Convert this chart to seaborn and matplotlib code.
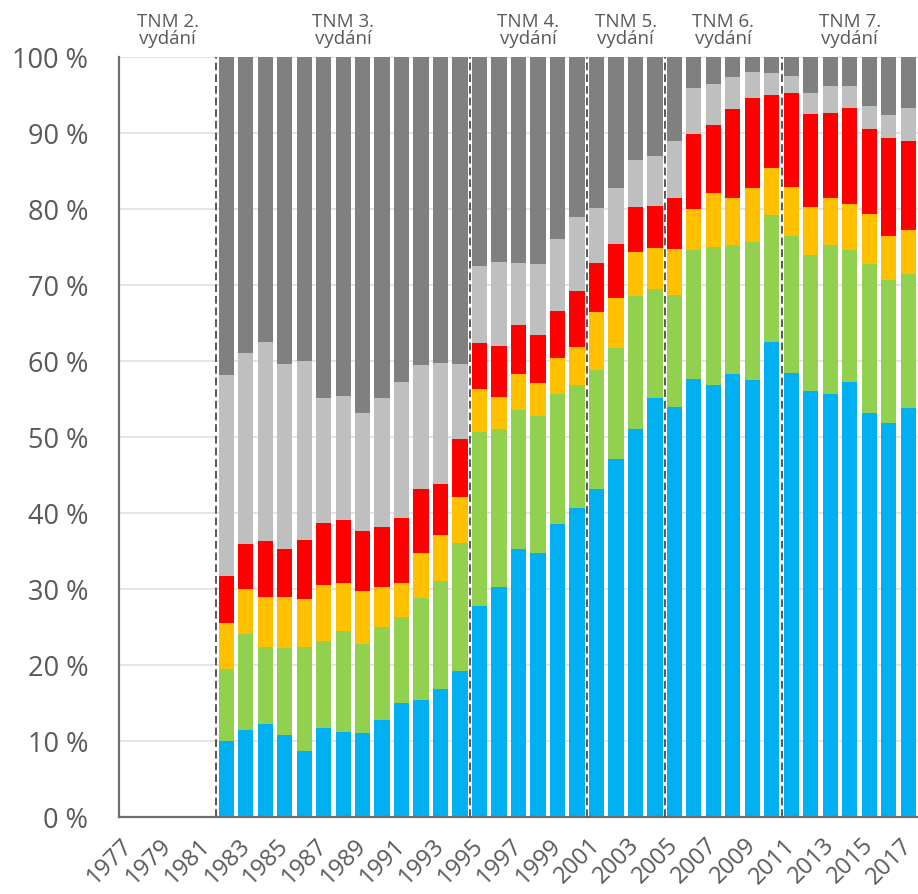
import matplotlib
matplotlib.use("Agg")
import matplotlib.pyplot as plt
import matplotlib.transforms as mtransforms
import numpy as np
import pandas as pd
import seaborn as sns

# ---------------------------------------------------------------------------
# data: share of each category per year (%), bottom -> top
# 1977-1981 have no data
# ---------------------------------------------------------------------------
years = list(range(1977, 2018))

blue = [0, 0, 0, 0, 0,
        10.0, 11.4, 12.3, 10.8, 8.7, 11.7, 11.2, 11.1, 12.7, 15.0, 15.4, 16.8, 19.2,
        27.7, 30.3, 35.3, 34.8, 38.6, 40.7,
        43.2, 47.1, 51.1, 55.1,
        53.9, 57.6, 56.8, 58.3, 57.5, 62.5,
        58.4, 56.0, 55.6, 57.3, 53.2, 51.9, 53.8]
green = [0, 0, 0, 0, 0,
         9.5, 12.7, 10.1, 11.5, 13.7, 11.4, 13.3, 11.7, 12.3, 11.3, 13.4, 14.3, 16.8,
         22.9, 20.7, 18.3, 18.0, 17.0, 16.2,
         15.6, 14.6, 17.4, 14.4,
         14.8, 17.0, 18.2, 17.0, 18.2, 16.7,
         18.0, 18.0, 19.6, 17.3, 19.5, 18.8, 17.7]
orange = [0, 0, 0, 0, 0,
          6.0, 5.9, 6.5, 6.6, 6.3, 7.4, 6.3, 6.9, 5.3, 4.5, 5.9, 6.0, 6.1,
          5.7, 4.2, 4.7, 4.3, 4.8, 5.0,
          7.6, 6.6, 5.8, 5.4,
          6.1, 5.4, 7.1, 6.1, 7.0, 6.2,
          6.5, 6.3, 6.2, 6.1, 6.6, 5.7, 5.8]
red = [0, 0, 0, 0, 0,
       6.2, 5.9, 7.4, 6.4, 7.8, 8.2, 8.3, 7.9, 7.8, 8.5, 8.5, 6.7, 7.6,
       6.1, 6.8, 6.4, 6.3, 6.2, 7.3,
       6.5, 7.1, 6.0, 5.5,
       6.7, 9.9, 8.9, 11.7, 11.9, 9.6,
       12.4, 12.2, 11.2, 12.6, 11.2, 12.9, 11.7]
light_grey = [0, 0, 0, 0, 0,
              26.5, 25.1, 26.2, 24.3, 23.5, 16.4, 16.3, 15.5, 17.0, 18.0, 16.3, 15.9, 9.9,
              10.1, 11.0, 8.2, 9.4, 9.5, 9.8,
              7.2, 7.4, 6.1, 6.6,
              7.4, 6.0, 5.5, 4.3, 3.4, 2.9,
              2.2, 2.8, 3.6, 2.9, 3.0, 3.1, 4.3]
dark_grey = [0, 0, 0, 0, 0,
             41.8, 39.0, 37.5, 40.4, 40.0, 44.9, 44.6, 46.9, 44.9, 42.7, 40.5, 40.3, 40.4,
             27.5, 27.0, 27.1, 27.2, 23.9, 21.0,
             19.9, 17.2, 13.6, 13.0,
             11.1, 4.1, 3.5, 2.6, 2.0, 2.1,
             2.5, 4.7, 3.8, 3.8, 6.5, 7.6, 6.7]

series = [blue, green, orange, red, light_grey, dark_grey]
colors = ["#00B0F0", "#92D050", "#FFC000", "#FF0000", "#BFBFBF", "#808080"]

# editions (first year, last year, label)
edition_first = [1977, 1982, 1995, 2001, 2005, 2011]
edition_last = [1981, 1994, 2000, 2004, 2010, 2017]
edition_labels = ["TNM 2.\nvydání", "TNM 3.\nvydání", "TNM 4.\nvydání",
                  "TNM 5.\nvydání", "TNM 6.\nvydání", "TNM 7.\nvydání"]

TEXT = "#595959"
AXIS = "#6E6E6E"

sns.set_style("white")
plt.rcParams["font.family"] = ["Open Sans", "DejaVu Sans"]

fig = plt.figure(figsize=(9.18, 8.94), dpi=100)
ax = fig.add_axes([119 / 918, 77 / 894, 799 / 918, 760 / 894])

df = pd.DataFrame({"year": [str(y) for y in years]})
cum = np.cumsum(np.array(series), axis=0)

# stacked bars: draw tallest cumulative first
for i in range(len(series) - 1, -1, -1):
    sns.barplot(x=df["year"], y=cum[i], color=colors[i], width=0.78,
                saturation=1, linewidth=0, ax=ax, zorder=2)

ax.set_xlim(-0.5, len(years) - 0.5)
ax.set_ylim(0, 100)
ax.set_xlabel("")
ax.set_ylabel("")

# y axis
ax.set_yticks(range(0, 101, 10))
ax.set_yticklabels([f"{v} %" for v in range(0, 101, 10)])
ax.yaxis.grid(True, color="#E3E3E3", linewidth=1.3, zorder=0)
ax.set_axisbelow(True)
ax.tick_params(axis="y", length=7, width=1.5, color=AXIS, pad=15,
               labelsize=19.5, labelcolor=TEXT)

# x axis: labels every second year, tick marks at category boundaries
ax.set_xticks(range(0, len(years), 2))
ax.set_xticklabels([str(y) for y in years[::2]], rotation=45, ha="right",
                   va="center", rotation_mode="anchor")
ax.set_xticks(np.arange(-0.5, len(years), 1), minor=True)
ax.tick_params(axis="x", which="major", length=0, pad=18,
               labelsize=17, labelcolor=TEXT)
ax.tick_params(axis="x", which="minor", length=6, width=1.5, color=AXIS)
shift = mtransforms.ScaledTranslation(0.5 / 72, 0, fig.dpi_scale_trans)
for lab in ax.get_xticklabels():
    lab.set_transform(lab.get_transform() + shift)

for side in ["top", "right"]:
    ax.spines[side].set_visible(False)
for side in ["left", "bottom"]:
    ax.spines[side].set_color(AXIS)
    ax.spines[side].set_linewidth(1.6)

# edition separators and labels
for first, last, label in zip(edition_first, edition_last, edition_labels):
    i0 = years.index(first) - 0.5
    i1 = years.index(last) + 0.5
    if first != years[0]:
        ax.vlines(i0, 0, 100, colors="#595959", linestyles=(0, (4, 2)),
                  linewidth=1.4, zorder=3)
    ax.text((i0 + i1) / 2, 101.2, label, ha="center", va="bottom",
            fontsize=13.5, color=TEXT, linespacing=0.95, clip_on=False)

fig.savefig("out.png", dpi=100)
